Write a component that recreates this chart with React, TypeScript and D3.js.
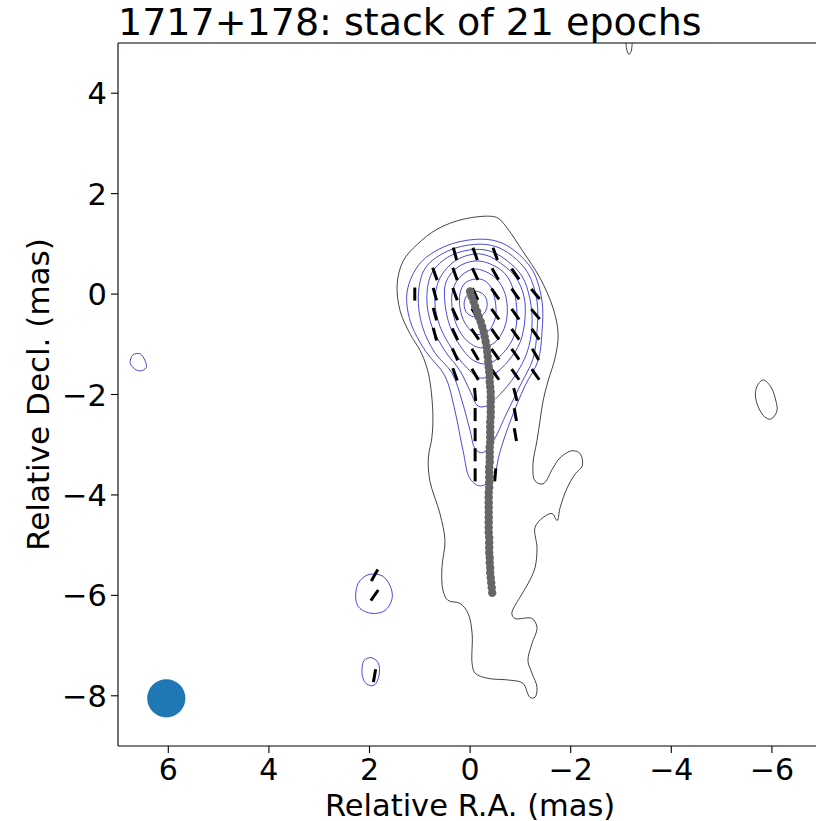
import React from 'react';
import * as d3 from 'd3';

const W = 816;
const H = 821;

const raTicks = [6, 4, 2, 0, -2, -4, -6];
const decTicks = [4, 2, 0, -2, -4, -6, -8];

// lowest contour (black), traced as [RA, Dec] in mas
const outerContour = [
  [0.14, 1.49], [-0.40, 1.55], [-0.56, 1.51], [-0.74, 1.31], [-1.05, 0.85], [-1.39, 0.32],
  [-1.65, -0.28], [-1.75, -0.80], [-1.69, -1.27], [-1.55, -1.73], [-1.45, -2.13], [-1.39, -2.52],
  [-1.33, -2.92], [-1.25, -3.38], [-1.29, -3.72], [-1.45, -3.78], [-1.65, -3.46], [-1.79, -3.26],
  [-2.03, -3.12], [-2.19, -3.18], [-2.23, -3.42], [-2.09, -3.58], [-1.93, -3.86], [-1.79, -4.25],
  [-1.73, -4.51], [-1.63, -4.37], [-1.45, -4.45], [-1.29, -4.65], [-1.33, -5.05], [-1.29, -5.45],
  [-1.15, -5.77], [-0.99, -6.04], [-0.83, -6.36], [-0.89, -6.46], [-1.23, -6.46], [-1.33, -6.64],
  [-1.23, -6.96], [-1.15, -7.30], [-1.23, -7.55], [-1.33, -7.83], [-1.29, -8.03], [-1.19, -8.03],
  [-1.05, -7.75], [-0.80, -7.69], [-0.34, -7.65], [-0.10, -7.55], [-0.04, -7.36], [-0.04, -6.76],
  [0.04, -6.36], [0.20, -6.16], [0.44, -6.10], [0.54, -5.90], [0.56, -5.45], [0.50, -4.91],
  [0.60, -4.37], [0.80, -3.72], [0.83, -3.26], [0.76, -2.86], [0.74, -2.39], [0.80, -1.73],
  [0.87, -1.43], [0.99, -1.13], [1.19, -0.80], [1.39, -0.34], [1.45, 0.20], [1.33, 0.66],
  [1.05, 0.99], [0.66, 1.29],
];

const blackIslandEast = [
  [-5.83, -1.71], [-5.98, -1.85], [-6.08, -2.13], [-6.10, -2.33], [-5.98, -2.49],
  [-5.86, -2.45], [-5.73, -2.25], [-5.67, -1.99], [-5.73, -1.79],
];

const blackIslandTop = [
  [-3.10, 5.10], [-3.10, 4.97], [-3.12, 4.85], [-3.16, 4.77], [-3.20, 4.83], [-3.22, 4.97], [-3.22, 5.10],
];

// higher contours (blue), inner to outer
const blueContours = [
  [[-0.10, 0.06], [0.06, -0.02], [0.12, -0.20], [0.06, -0.38], [-0.12, -0.46], [-0.28, -0.38],
   [-0.34, -0.20], [-0.28, -0.02]],
  [[-0.10, 0.30], [0.10, 0.22], [0.20, 0.02], [0.20, -0.28], [0.10, -0.58], [-0.12, -0.80],
   [-0.36, -0.74], [-0.50, -0.48], [-0.50, -0.14], [-0.40, 0.16], [-0.26, 0.28]],
  [[-0.10, 0.50], [0.16, 0.38], [0.34, 0.10], [0.36, -0.24], [0.26, -0.64], [0.06, -0.93],
   [-0.20, -1.07], [-0.48, -0.97], [-0.68, -0.68], [-0.74, -0.28], [-0.66, 0.10], [-0.46, 0.36]],
  [[-0.10, 0.66], [0.24, 0.54], [0.48, 0.24], [0.50, -0.18], [0.40, -0.64], [0.20, -1.03],
   [-0.08, -1.33], [-0.36, -1.39], [-0.66, -1.17], [-0.87, -0.84], [-0.93, -0.38], [-0.87, 0.06],
   [-0.70, 0.40], [-0.40, 0.60]],
  [[-0.10, 0.80], [0.30, 0.66], [0.60, 0.32], [0.70, -0.14], [0.60, -0.64], [0.36, -1.09],
   [0.08, -1.45], [-0.20, -1.67], [-0.48, -1.59], [-0.76, -1.33], [-0.99, -0.97], [-1.09, -0.50],
   [-1.07, -0.04], [-0.89, 0.36], [-0.60, 0.62], [-0.36, 0.76]],
  [[-0.10, 0.89], [0.40, 0.76], [0.76, 0.42], [0.86, -0.10], [0.76, -0.64], [0.50, -1.13],
   [0.20, -1.53], [0.00, -1.93], [-0.16, -2.23], [-0.32, -2.23], [-0.60, -1.99], [-0.89, -1.63],
   [-1.13, -1.17], [-1.23, -0.64], [-1.19, -0.10], [-1.03, 0.36], [-0.74, 0.66], [-0.44, 0.84]],
  [[-0.10, 0.99], [0.44, 0.86], [0.89, 0.52], [1.03, -0.04], [0.95, -0.64], [0.70, -1.17],
   [0.36, -1.57], [0.16, -2.13], [0.00, -2.72], [-0.10, -3.08], [-0.24, -3.16], [-0.44, -2.96],
   [-0.70, -2.43], [-0.99, -1.83], [-1.25, -1.29], [-1.33, -0.74], [-1.33, -0.14], [-1.15, 0.42],
   [-0.84, 0.76], [-0.50, 0.95]],
  [[-0.10, 1.09], [0.50, 0.95], [0.99, 0.62], [1.25, 0.06], [1.19, -0.54], [0.89, -1.13],
   [0.50, -1.63], [0.30, -2.33], [0.14, -3.12], [0.00, -3.68], [-0.20, -3.82], [-0.44, -3.68],
   [-0.60, -3.12], [-0.80, -2.53], [-1.09, -1.83], [-1.35, -1.33], [-1.43, -0.74], [-1.43, -0.14],
   [-1.25, 0.46], [-0.89, 0.86], [-0.54, 1.05]],
];

const blueIslands = [
  [[6.76, -1.37], [6.70, -1.21], [6.56, -1.19], [6.46, -1.33], [6.44, -1.47], [6.56, -1.53], [6.67, -1.49]],
  [[2.27, -6.10], [2.23, -5.77], [2.03, -5.59], [1.75, -5.61], [1.59, -5.81], [1.55, -6.06],
   [1.69, -6.30], [1.95, -6.36], [2.19, -6.26]],
  [[2.15, -7.50], [2.11, -7.30], [1.97, -7.24], [1.83, -7.34], [1.81, -7.59], [1.91, -7.79],
   [2.05, -7.77], [2.13, -7.65]],
];

// EVPA sticks: [RA, Dec, angle east of north in deg]
const evpaVectors = [
  [0.3, 0.8, 15], [-0.1, 0.8, 20], [-0.5, 0.8, 20],
  [0.7, 0.4, 20], [0.3, 0.4, 20], [-0.1, 0.4, 25], [-0.5, 0.4, 30], [-0.9, 0.4, 35],
  [1.1, 0, 0], [0.7, 0, 15], [0.3, 0, 20], [-0.1, 0, 25], [-0.5, 0, 35], [-0.9, 0, 35], [-1.3, 0, 40],
  [0.7, -0.4, 15], [0.3, -0.4, 25], [-0.1, -0.4, 30], [-0.5, -0.4, 35], [-0.9, -0.4, 35], [-1.3, -0.4, 40],
  [0.7, -0.8, 15], [0.3, -0.8, 25], [-0.1, -0.8, 35], [-0.5, -0.8, 35], [-0.9, -0.8, 35], [-1.3, -0.8, 35],
  [0.3, -1.2, 25], [-0.1, -1.2, 30], [-0.5, -1.2, 35], [-0.9, -1.2, 35], [-1.3, -1.2, 30],
  [0.3, -1.6, 20], [-0.1, -1.6, 30], [-0.5, -1.6, 35], [-0.9, -1.6, 35], [-1.3, -1.6, 35],
  [-0.1, -2.0, 5], [-0.9, -2.0, 15],
  [-0.1, -2.4, 0], [-0.9, -2.4, 10],
  [-0.1, -2.8, 0], [-0.9, -2.8, 10],
  [-0.1, -3.2, 0],
  [-0.1, -3.6, 0], [-0.5, -3.6, -5],
  [1.9, -5.6, -30], [1.9, -6.0, -35], [1.9, -7.6, -10],
];
const evpaLength = 0.26;

// ridge line
const ridgeDec = [
  0.05, -0.05, -0.15, -0.25, -0.35, -0.45, -0.55, -0.65, -0.75, -0.85,
  -0.95, -1.05, -1.15, -1.25, -1.35, -1.45, -1.55, -1.65, -1.75, -1.85,
  -1.95, -2.05, -2.15, -2.25, -2.35, -2.45, -2.55, -2.65, -2.75, -2.85,
  -2.95, -3.05, -3.15, -3.25, -3.35, -3.45, -3.55, -3.65, -3.75, -3.85,
  -3.95, -4.05, -4.15, -4.25, -4.35, -4.45, -4.55, -4.65, -4.75, -4.85,
  -4.95, -5.05, -5.15, -5.25, -5.35, -5.45, -5.55, -5.65, -5.75, -5.85, -5.95,
];
const ridgeRa = [
  0.00, -0.03, -0.07, -0.10, -0.14, -0.17, -0.21, -0.24, -0.27, -0.29,
  -0.31, -0.33, -0.34, -0.35, -0.36, -0.37, -0.38, -0.39, -0.39, -0.40,
  -0.41, -0.41, -0.41, -0.41, -0.41, -0.41, -0.40, -0.40, -0.40, -0.40,
  -0.40, -0.39, -0.39, -0.39, -0.39, -0.38, -0.38, -0.38, -0.38, -0.38,
  -0.37, -0.37, -0.37, -0.37, -0.37, -0.37, -0.37, -0.37, -0.37, -0.38,
  -0.38, -0.38, -0.38, -0.39, -0.39, -0.40, -0.40, -0.41, -0.42, -0.43, -0.44,
];

// restoring beam
const beam = { ra: 6.04, dec: -8.05, radius: 0.38 };

const FONT = 'DejaVu Sans, sans-serif';

export default function App() {
  const x = d3.scaleLinear().domain([7, -7]).range([118, 822.2]);
  const y = d3.scaleLinear().domain([5, -9]).range([43, 746]);
  const [x0, x1] = x.range();
  const [y0, y1] = y.range();

  const contour = d3.line<number[]>()
    .x(d => x(d[0]))
    .y(d => y(d[1]))
    .curve(d3.curveCatmullRomClosed.alpha(0.5));

  const half = evpaLength / 2;
  const rad = Math.PI / 180;
  const fmt = (t: number) => (t < 0 ? '\u2212' + Math.abs(t) : String(t));

  return (
    <svg width={W} height={H} style={{ position: 'absolute', left: 0, top: 0, background: '#fff' }}
      fontFamily={FONT}>
      <defs>
        <clipPath id="plot">
          <rect x={x0} y={y0} width={x1 - x0} height={y1 - y0} />
        </clipPath>
      </defs>

      <g clipPath="url(#plot)">
        {[outerContour, blackIslandEast, blackIslandTop].map((c, i) => (
          <path key={'k' + i} d={contour(c) || ''} fill="none" stroke="#222" strokeWidth={1} strokeOpacity={0.85} />
        ))}
        {[...blueContours, ...blueIslands].map((c, i) => (
          <path key={'b' + i} d={contour(c) || ''} fill="none" stroke="#2a2ad2" strokeWidth={1} strokeOpacity={0.85} />
        ))}
        {evpaVectors.map(([ra, dec, ang], i) => {
          const dr = Math.sin(ang * rad) * half;
          const dd = Math.cos(ang * rad) * half;
          return (
            <line key={'v' + i} x1={x(ra + dr)} y1={y(dec + dd)} x2={x(ra - dr)} y2={y(dec - dd)}
              stroke="#000" strokeWidth={3} />
          );
        })}
        {ridgeDec.map((dec, i) => (
          <circle key={'r' + i} cx={x(ridgeRa[i])} cy={y(dec)} r={4.2} fill="#666" />
        ))}
        <ellipse cx={x(beam.ra)} cy={y(beam.dec)}
          rx={Math.abs(x(beam.radius) - x(0))} ry={Math.abs(y(beam.radius) - y(0))} fill="#1f77b4" />
      </g>

      {/* spines */}
      <line x1={x0} y1={y0} x2={x0} y2={y1} stroke="#000" strokeWidth={1.1} />
      <line x1={x0} y1={y1} x2={W} y2={y1} stroke="#000" strokeWidth={1.1} />
      <line x1={x0} y1={y0} x2={W} y2={y0} stroke="#000" strokeWidth={1.1} />

      {raTicks.map(t => (
        <g key={'xt' + t}>
          <line x1={x(t)} x2={x(t)} y1={y1} y2={y1 + 7} stroke="#000" strokeWidth={1.1} />
          <text x={x(t)} y={y1 + 33.5} textAnchor="middle" fontSize={30} fill="#000">{fmt(t)}</text>
        </g>
      ))}
      {decTicks.map(t => (
        <g key={'yt' + t}>
          <line x1={x0 - 7} x2={x0} y1={y(t)} y2={y(t)} stroke="#000" strokeWidth={1.1} />
          <text x={x0 - 11} y={y(t) + 11} textAnchor="end" fontSize={30.5} fill="#000">{fmt(t)}</text>
        </g>
      ))}

      <text x={(x0 + x1) / 2} y={815.5} textAnchor="middle" fontSize={30.5} fill="#000">
        Relative R.A. (mas)
      </text>
      <text transform={`translate(49,${(y0 + y1) / 2}) rotate(-90)`} textAnchor="middle" fontSize={31} fill="#000">
        Relative Decl. (mas)
      </text>
      <text x={x0} y={35} fontSize={38} fill="#000">1717+178: stack of 21 epochs</text>
    </svg>
  );
}
